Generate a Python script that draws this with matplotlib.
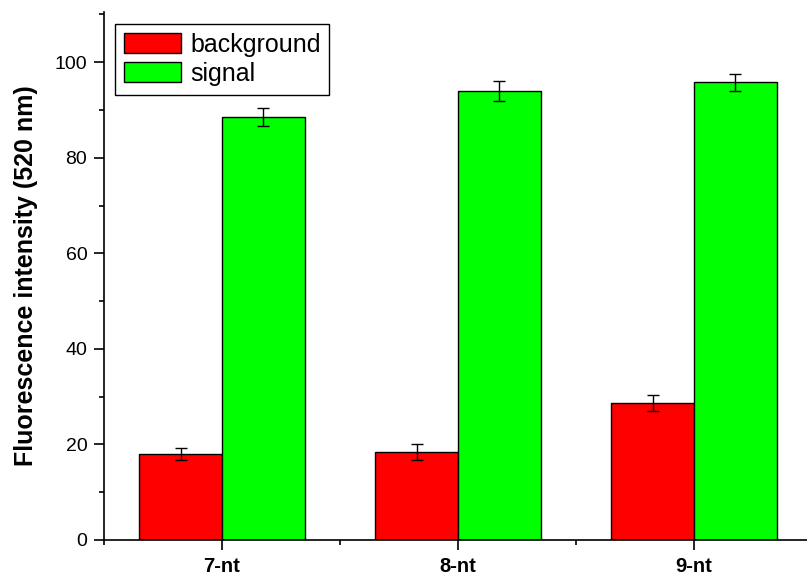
import numpy as np
import matplotlib.pyplot as plt
from matplotlib.ticker import MultipleLocator, FixedLocator

plt.rcParams['font.family'] = ['Liberation Sans', 'DejaVu Sans']

categories = ['7-nt', '8-nt', '9-nt']
background = [18.0, 18.4, 28.6]
background_err = [1.3, 1.6, 1.7]
signal = [88.5, 93.9, 95.8]
signal_err = [1.9, 2.1, 1.8]

fig = plt.figure(figsize=(8.07, 5.78), dpi=100)
ax = fig.add_axes([104 / 807, 1 - 540 / 578, 703 / 807, 528 / 578])

x = np.arange(1, len(categories) + 1)
w = 0.35
ax.bar(x - w / 2, background, w, color='#ff0000', edgecolor='black', linewidth=1,
       label='background', yerr=background_err, capsize=4.5,
       error_kw=dict(ecolor='black', elinewidth=1, capthick=1))
ax.bar(x + w / 2, signal, w, color='#00ff00', edgecolor='black', linewidth=1,
       label='signal', yerr=signal_err, capsize=4.5,
       error_kw=dict(ecolor='black', elinewidth=1, capthick=1))

ax.set_xlim(0.5, 0.5 + 703 / 236)
ax.set_ylim(0, 110.5)
ax.set_xticks(x)
ax.set_xticklabels(categories, fontsize=14.5, fontweight='bold')
ax.xaxis.set_minor_locator(FixedLocator([0.5, 1.5, 2.5, 3.5]))
ax.yaxis.set_major_locator(MultipleLocator(20))
ax.yaxis.set_minor_locator(MultipleLocator(10))
ax.tick_params(axis='y', which='major', direction='out', length=7, width=1.2, labelsize=14, pad=5)
ax.tick_params(axis='y', which='minor', direction='out', length=3.5, width=1.2)
ax.tick_params(axis='x', which='major', direction='out', length=7.5, width=1.2, pad=5)
ax.tick_params(axis='x', which='minor', direction='out', length=3.5, width=1.2)
ax.set_ylabel('Fluorescence intensity (520 nm)', fontsize=18, fontweight='bold', labelpad=12)

for s in ['top', 'right']:
    ax.spines[s].set_visible(False)
for s in ['left', 'bottom']:
    ax.spines[s].set_linewidth(1.2)

leg = ax.legend(loc='upper left', bbox_to_anchor=((115 - 104) / 703, (540 - 24) / 528),
                borderaxespad=0, fontsize=18,
                fancybox=False, edgecolor='black', framealpha=1,
                handlelength=2.3, handleheight=0.85, borderpad=0.35,
                labelspacing=0.2, handletextpad=0.35)
leg.get_frame().set_linewidth(1)

fig.savefig('out.png', dpi=100)
